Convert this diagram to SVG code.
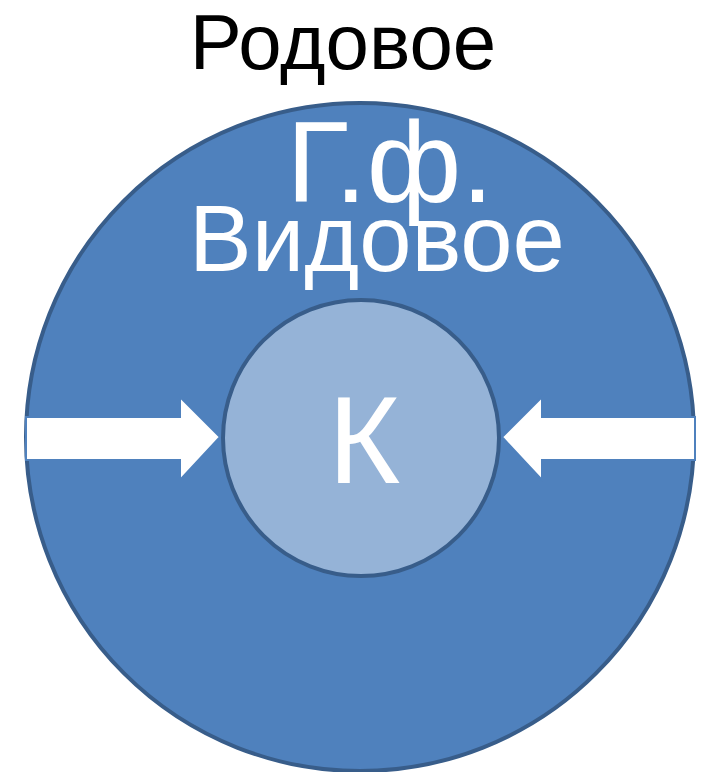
<svg xmlns="http://www.w3.org/2000/svg" width="711" height="772" viewBox="0 0 711 772">
<style>
.t{font-family:"Liberation Sans",Arial,sans-serif;text-anchor:middle}
.w{fill:#ffffff}
.arrow{fill:#ffffff;stroke:#4f81bd;stroke-width:2}
</style>
<rect width="711" height="772" fill="#ffffff"/>
<g id="outer">
<circle cx="360" cy="437" r="334" fill="#4f81bd" stroke="#385d8a" stroke-width="4"/>
<text class="t w" x="390" y="202" font-size="115">Г.ф.</text>
<text class="t w" x="377" y="271" font-size="94">Видовое</text>
</g>
<g id="title">
<text class="t" x="343" y="69" font-size="78" fill="#000000">Родовое</text>
</g>
<g id="connectors">
<polygon class="arrow" points="26,417 180,417 180,397 220,437 180,480 180,460 26,460"/>
<polygon class="arrow" points="502,437 542,397 542,417 695,417 695,460 542,460 542,480"/>
</g>
<g id="inner">
<circle cx="361" cy="438" r="138" fill="#95b3d7" stroke="#385d8a" stroke-width="4"/>
<text class="t w" x="364" y="483" font-size="124">К</text>
</g>
</svg>
